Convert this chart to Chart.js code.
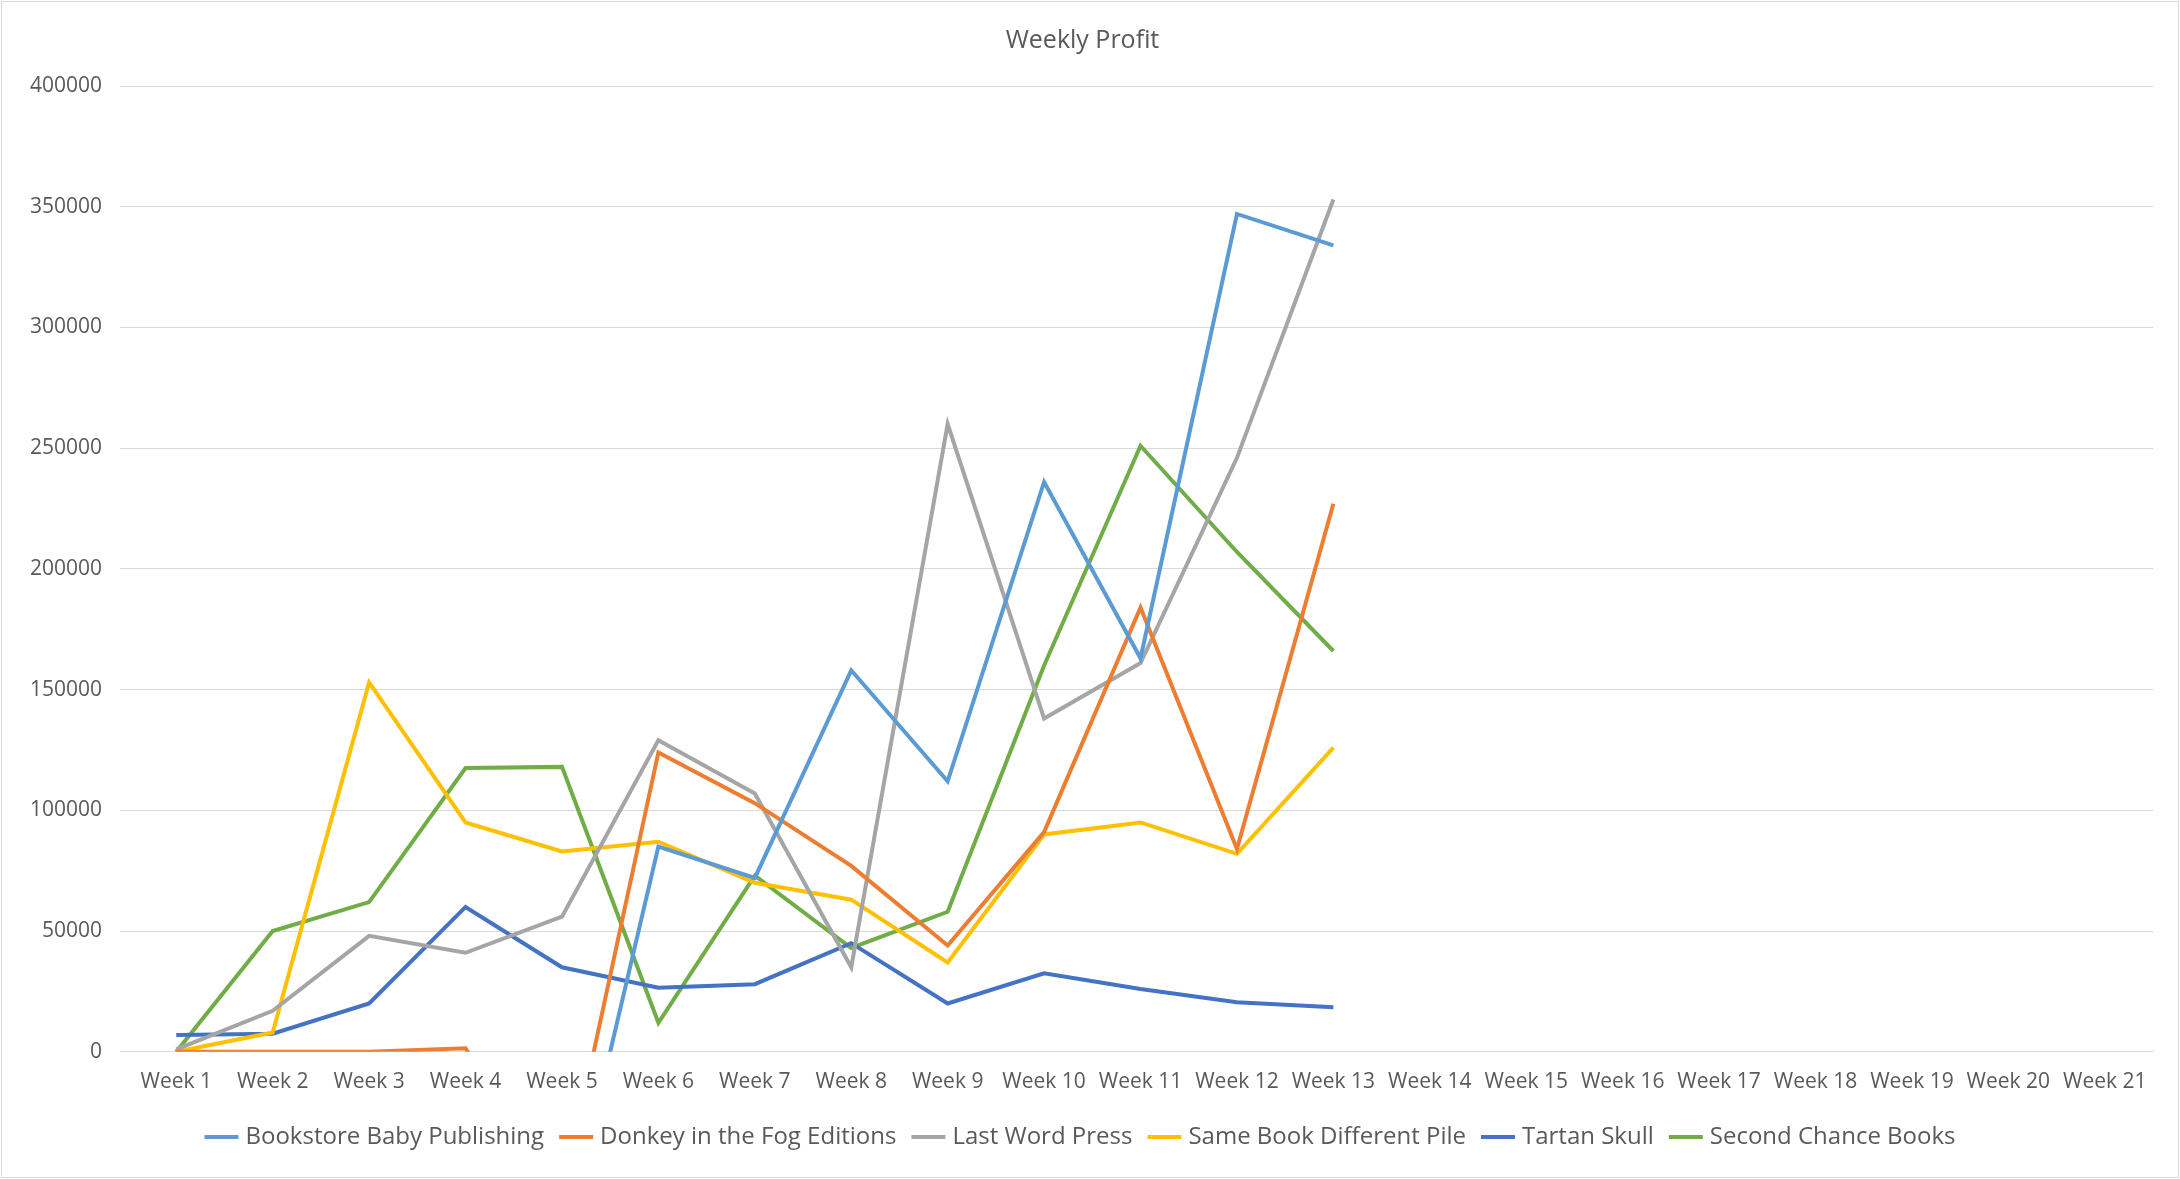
<!DOCTYPE html>
<html><head><meta charset="utf-8">
<script src="https://cdn.jsdelivr.net/npm/chart.js@4"></script>
<style>html,body{margin:0;padding:0;background:#fff}#w{position:absolute;left:1px;top:1px;width:2176px;height:1175px;border:1px solid #d9d9d9}</style>
</head><body><div id="w"><canvas id="c"></canvas></div>
<script>
const categories = Array.from({length:21},(_,i)=>'Week '+(i+1));
const bookstore = [null,null,null,null,-85000,85000,72000,158000,112000,236000,163000,347000,334000];
const donkey = [0,0,0,1500,-61000,124000,103000,77000,44000,91000,184000,84000,227000];
const lastWord = [1000,17000,48000,41000,56000,129000,107000,35000,260000,138000,161000,246000,353000];
const sameBook = [0,8000,153000,95000,83000,87000,70000,63000,37000,90000,95000,82000,126000];
const tartan = [7000,7500,20000,60000,35000,26500,28000,45000,20000,32500,26000,20500,18500];
const secondChance = [0,50000,62000,117500,118000,12000,73000,43000,58000,160000,251000,207000,166000];
const mk=(l,d,c)=>({label:l,data:d,borderColor:c,backgroundColor:c,borderWidth:4,pointRadius:0,tension:0,fill:false});
new Chart(document.getElementById('c'),{type:'line',
data:{labels:categories,datasets:[
mk('Bookstore Baby Publishing',bookstore,'#5B9BD5'),
mk('Donkey in the Fog Editions',donkey,'#ED7D31'),
mk('Last Word Press',lastWord,'#A5A5A5'),
mk('Same Book Different Pile',sameBook,'#FFC000'),
mk('Tartan Skull',tartan,'#4472C4'),
mk('Second Chance Books',secondChance,'#70AD47')]},
options:{responsive:true,maintainAspectRatio:false,animation:false,
layout:{padding:{left:10,right:25,top:14,bottom:18}},
plugins:{title:{display:true,text:'Weekly Profit',color:'#595959',font:{family:'Open Sans',size:25,weight:'normal'},padding:{top:10,bottom:30}},
legend:{position:'bottom',labels:{usePointStyle:true,pointStyle:'line',boxWidth:40,color:'#595959',font:{family:'Open Sans',size:24},padding:20}}},
scales:{x:{offset:true,grid:{display:false},border:{color:'#d9d9d9'},ticks:{color:'#595959',font:{family:'Open Sans',size:21},maxRotation:0,autoSkip:false,padding:10}},
y:{min:0,max:400000,ticks:{stepSize:50000,color:'#595959',font:{family:'Open Sans',size:21},padding:18,callback:v=>String(v)},grid:{color:'#d9d9d9'},border:{display:false}}}}});
</script></body></html>
